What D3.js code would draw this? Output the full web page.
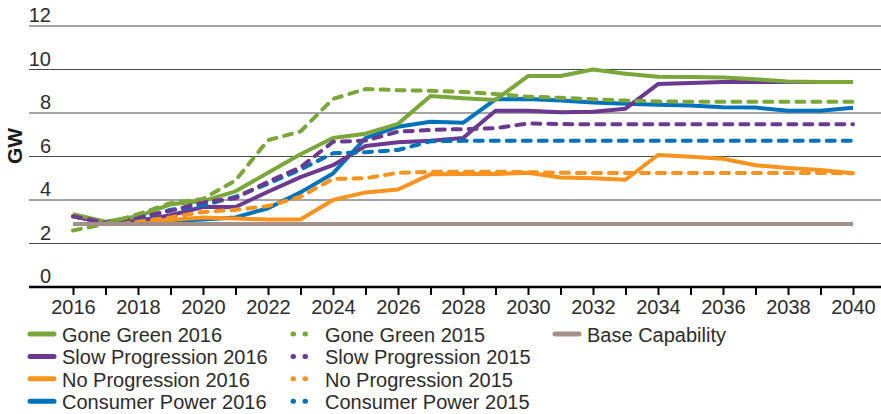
<!DOCTYPE html>
<html><head><meta charset="utf-8">
<script src="https://cdn.jsdelivr.net/npm/d3@7"></script>
<style>
html,body{margin:0;padding:0;background:#fff;}
text{font-family:"Liberation Sans",Arial,sans-serif;fill:#2e2b2c;}
</style></head>
<body><svg id="c" width="881" height="414"></svg>
<script>
const years = d3.range(2016, 2041);
const yTicks = [0, 2, 4, 6, 8, 10, 12];
const xLabelYears = [2016,2018,2020,2022,2024,2026,2028,2030,2032,2034,2036,2038,2040];

const goneGreen2016 = [3.35,3.0,3.25,3.8,3.95,4.4,5.25,6.1,6.85,7.05,7.5,8.78,8.68,8.6,9.7,9.7,10.0,9.8,9.67,9.65,9.63,9.55,9.45,9.43,9.42];
const goneGreen2015 = [2.6,2.9,3.35,3.85,4.05,4.9,6.75,7.15,8.65,9.1,9.05,9.02,8.97,8.87,8.75,8.7,8.63,8.57,8.53,8.52,8.52,8.52,8.52,8.52,8.52];
const slowProg2016 = [3.25,2.95,3.05,3.3,3.68,3.68,4.38,5.05,5.6,6.48,6.65,6.72,6.85,8.1,8.1,8.03,8.06,8.2,9.33,9.38,9.42,9.42,9.42,9.42,9.42];
const slowProg2015 = [3.25,2.95,3.2,3.5,3.9,4.08,4.84,5.5,6.68,6.73,7.14,7.22,7.26,7.3,7.52,7.49,7.48,7.48,7.48,7.48,7.48,7.48,7.48,7.48,7.48];
const noProg2016 = [3.25,2.95,2.95,3.08,3.2,3.15,3.1,3.1,4.0,4.35,4.48,5.18,5.2,5.2,5.25,5.03,5.0,4.93,6.07,5.99,5.9,5.6,5.47,5.38,5.23];
const noProg2015 = [3.25,2.95,3.0,3.2,3.45,3.55,3.72,4.15,4.97,5.0,5.25,5.3,5.3,5.3,5.28,5.25,5.24,5.24,5.24,5.24,5.24,5.24,5.24,5.24,5.23];
const consumer2016 = [3.25,2.95,3.0,3.05,3.1,3.2,3.62,4.35,5.22,6.84,7.37,7.6,7.55,8.63,8.64,8.57,8.48,8.42,8.38,8.34,8.27,8.25,8.1,8.1,8.24];
const consumer2015 = [3.25,2.95,3.1,3.55,3.75,4.15,4.75,5.4,6.15,6.2,6.3,6.7,6.72,6.72,6.72,6.72,6.72,6.72,6.72,6.72,6.72,6.72,6.72,6.72,6.72];
const baseCapability = years.map(() => 2.9);

const C = {green:"#7aa63a", purple:"#6b3a90", orange:"#f7931e", blue:"#0072bb", base:"#a39189"};

const series = [
  {name:"Consumer Power 2016", values:consumer2016, color:C.blue, dash:false},
  {name:"No Progression 2016", values:noProg2016, color:C.orange, dash:false},
  {name:"Slow Progression 2016", values:slowProg2016, color:C.purple, dash:false},
  {name:"Gone Green 2016", values:goneGreen2016, color:C.green, dash:false},
  {name:"Consumer Power 2015", values:consumer2015, color:C.blue, dash:true},
  {name:"No Progression 2015", values:noProg2015, color:C.orange, dash:true},
  {name:"Slow Progression 2015", values:slowProg2015, color:C.purple, dash:true},
  {name:"Gone Green 2015", values:goneGreen2015, color:C.green, dash:true},
  {name:"Base Capability", values:baseCapability, color:C.base, dash:false}
];

const svg = d3.select("#c");
const x = d3.scaleLinear().domain([2016, 2040]).range([73, 853]);
const y = d3.scaleLinear().domain([0, 12]).range([287, 26]);
const gridX0 = 29, gridX1 = 881;

// gridlines
svg.append("g").selectAll("line").data(yTicks.filter(d => d > 0)).join("line")
  .attr("x1", gridX0).attr("x2", gridX1)
  .attr("y1", d => y(d)).attr("y2", d => y(d))
  .attr("stroke", "#4a4a4a").attr("stroke-width", 1.2);

// y labels
svg.append("g").selectAll("text").data(yTicks).join("text")
  .attr("x", 51).attr("y", d => y(d) - 4)
  .attr("text-anchor", "end").attr("font-size", 20)
  .text(d => d);

// GW label
svg.append("text").attr("transform", "translate(22,146) rotate(-90)")
  .attr("text-anchor", "middle").attr("font-size", 21).attr("font-weight", "bold")
  .style("fill", "#1a1a1a")
  .text("GW");

// x axis
const xAxis = d3.axisBottom(x).tickValues(years).tickSize(8).tickFormat(d => xLabelYears.includes(d) ? d : "");
const gx = svg.append("g").attr("transform", "translate(0,287)").call(xAxis);
gx.select(".domain").remove();
gx.selectAll(".tick line").attr("stroke", "#000").attr("stroke-width", 2);
gx.selectAll(".tick text").attr("font-size", 20).attr("font-family", "Liberation Sans, Arial, sans-serif")
  .attr("y", 13).attr("dy", "0.71em");
svg.append("line").attr("x1", gridX0).attr("x2", gridX1).attr("y1", 287).attr("y2", 287)
  .attr("stroke", "#000").attr("stroke-width", 2.6);

// lines
const line = d3.line().x((d, i) => x(years[i])).y(d => y(d));
svg.append("g").selectAll("path").data(series).join("path")
  .attr("d", d => line(d.values))
  .attr("fill", "none")
  .attr("stroke", d => d.color)
  .attr("stroke-width", 4)
  .attr("stroke-linecap", d => d.dash ? "round" : "butt")
  .attr("stroke-linejoin", "round")
  .attr("stroke-dasharray", d => d.dash ? "8,8" : null);

// legend
const legendCols = [
  [{n:"Gone Green 2016",c:C.green,d:false},{n:"Slow Progression 2016",c:C.purple,d:false},{n:"No Progression 2016",c:C.orange,d:false},{n:"Consumer Power 2016",c:C.blue,d:false}],
  [{n:"Gone Green 2015",c:C.green,d:true},{n:"Slow Progression 2015",c:C.purple,d:true},{n:"No Progression 2015",c:C.orange,d:true},{n:"Consumer Power 2015",c:C.blue,d:true}],
  [{n:"Base Capability",c:C.base,d:false}]
];
const colX = [30, 293, 555];
const rowY = i => 334 + i * 22.4;
legendCols.forEach((col, ci) => {
  const g = svg.append("g");
  col.forEach((it, ri) => {
    const sx = colX[ci];
    const ln = g.append("line").attr("x1", sx).attr("x2", sx + 24).attr("y1", rowY(ri)).attr("y2", rowY(ri))
      .attr("stroke", it.c).attr("stroke-width", 5).attr("stroke-linecap", "round");
    if (it.d) ln.attr("stroke-dasharray", "0.5,11.5");
    g.append("text").attr("x", sx + 32).attr("y", rowY(ri) + 8).attr("font-size", 20).text(it.n);
  });
});
</script></body></html>
